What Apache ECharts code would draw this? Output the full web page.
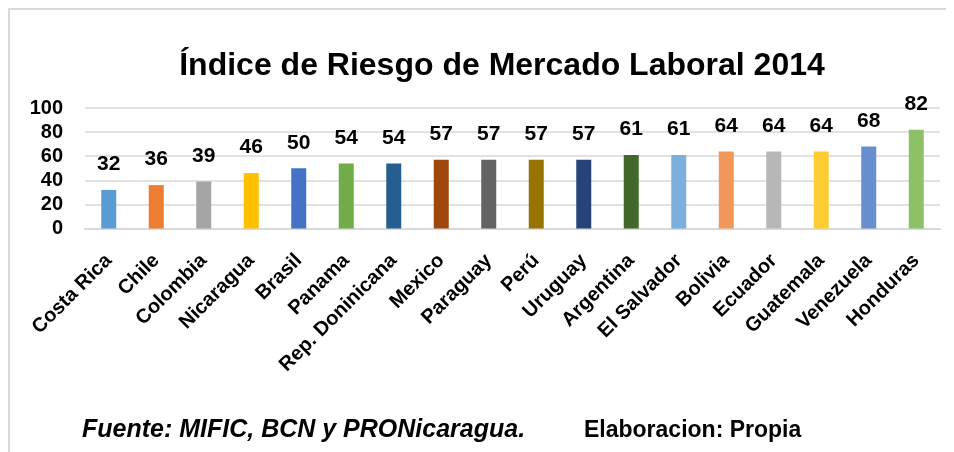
<!DOCTYPE html>
<html>
<head>
<meta charset="utf-8">
<script src="https://cdn.jsdelivr.net/npm/echarts@6/dist/echarts.min.js"></script>
<style>
  html, body { margin: 0; padding: 0; background: #fff; }
  #chart { width: 954px; height: 452px; }
</style>
</head>
<body>
<div id="chart"></div>
<script>
// datos del grafico
var paises = ['Costa Rica', 'Chile', 'Colombia', 'Nicaragua', 'Brasil', 'Panama',
  'Rep. Doninicana', 'Mexico', 'Paraguay', 'Perú', 'Uruguay', 'Argentina',
  'El Salvador', 'Bolivia', 'Ecuador', 'Guatemala', 'Venezuela', 'Honduras'];
var indice = [32, 36, 39, 46, 50, 54, 54, 57, 57, 57, 57, 61, 61, 64, 64, 64, 68, 82];
var yTicks = [0, 20, 40, 60, 80, 100];

// colores de barra (paleta office)
var colores = ['#5b9bd5', '#ed7d31', '#a5a5a5', '#ffc000', '#4472c4', '#70ad47',
  '#255e91', '#9e480e', '#636363', '#997300', '#264478', '#43682b',
  '#7cafdd', '#f1975a', '#b7b7b7', '#ffcd33', '#698ed0', '#8cc168'];

var fuente = 'Liberation Sans, Arial, sans-serif';
var myChart = echarts.init(document.getElementById('chart'));

var barData = [];
for (var i = 0; i < indice.length; i++) {
  barData.push({ value: indice[i], itemStyle: { color: colores[i] } });
}

var option = {
  animation: false,
  backgroundColor: '#fff',
  title: [{
    text: 'Índice de Riesgo de Mercado Laboral 2014',
    left: 502,
    top: 50,
    textAlign: 'center',
    padding: 0,
    textStyle: { fontFamily: fuente, fontWeight: 'bold', fontSize: 32, color: '#000' }
  }, {
    text: 'Fuente: MIFIC, BCN y PRONicaragua.',
    left: 82,
    top: 418,
    padding: 0,
    textStyle: { fontFamily: fuente, fontWeight: 'bold', fontStyle: 'italic', fontSize: 25, color: '#000' }
  }, {
    text: 'Elaboracion: Propia',
    left: 584,
    top: 419,
    padding: 0,
    textStyle: { fontFamily: fuente, fontWeight: 'bold', fontSize: 23, color: '#000' }
  }],
  graphic: [{
    type: 'polyline',
    shape: { points: [[9, 460], [9, 9], [946, 9]] },
    style: { stroke: '#d9d9d9', lineWidth: 2, fill: null },
    silent: true
  }],
  grid: {
    left: 85,
    right: 14,
    top: 108,
    height: 120.5
  },
  xAxis: {
    type: 'category',
    data: paises,
    axisLine: { lineStyle: { color: '#d9d9d9', width: 2 } },
    axisTick: { show: false },
    axisLabel: {
      interval: 0,
      rotate: 45,
      margin: 29,
      color: '#000',
      fontFamily: fuente,
      fontWeight: 'bold',
      fontSize: 20
    }
  },
  yAxis: {
    type: 'value',
    min: yTicks[0],
    max: yTicks[yTicks.length - 1],
    interval: 20,
    axisLine: { show: false },
    axisTick: { show: false },
    splitLine: { lineStyle: { color: '#d9d9d9', width: 1.5 } },
    axisLabel: {
      margin: 22,
      color: '#000',
      fontFamily: fuente,
      fontWeight: 'bold',
      fontSize: 20
    }
  },
  series: [{
    type: 'bar',
    data: barData,
    barWidth: 15,
    label: {
      show: true,
      position: 'top',
      distance: 15,
      color: '#000',
      fontFamily: fuente,
      fontWeight: 'bold',
      fontSize: 21
    }
  }]
};
myChart.setOption(option);
</script>
</body>
</html>
